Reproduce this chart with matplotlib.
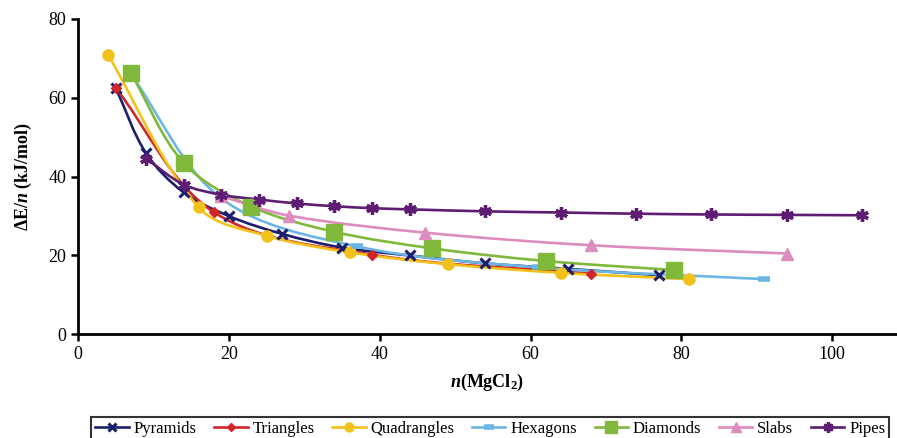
import matplotlib
matplotlib.use("Agg")
import matplotlib.pyplot as plt
import numpy as np
from matplotlib.path import Path
from matplotlib.patches import PathPatch

# n(MgCl2) and dE/n (kJ/mol)
pyr_x = [5, 9, 14, 20, 27, 35, 44, 54, 65, 77]
pyr_y = [62.5, 46, 36, 30, 25.5, 22, 20, 18, 16.6, 15]

tri_x = [5, 18, 39, 68]
tri_y = [62.5, 31, 20.2, 15.4]

quad_x = [4, 16, 25, 36, 49, 64, 81]
quad_y = [70.8, 32.2, 25, 20.8, 17.8, 15.6, 14]

hex_x = [7, 19, 37, 61, 91]
hex_y = [66, 34.5, 22.3, 17, 14]

dia_x = [7, 14, 23, 34, 47, 62, 79]
dia_y = [66.3, 43.5, 32.4, 26, 21.8, 18.6, 16.3]

slab_x = [19, 28, 46, 68, 94]
slab_y = [35, 30.1, 25.8, 22.6, 20.5]

pipe_x = [9, 14, 19, 24, 29, 34, 39, 44, 54, 64, 74, 84, 94, 104]
pipe_y = [44.6, 38, 35.4, 34.2, 33.2, 32.5, 32, 31.7, 31.2, 30.9, 30.6, 30.4, 30.3, 30.2]

plt.rcParams['font.family'] = ['Liberation Serif', 'DejaVu Serif']
plt.rcParams['mathtext.fontset'] = 'custom'
plt.rcParams['mathtext.rm'] = 'Liberation Serif:bold'
plt.rcParams['mathtext.it'] = 'Liberation Serif:bold:italic'
plt.rcParams['mathtext.bf'] = 'Liberation Serif:bold'


def smooth_line(ax, xs, ys, color, lw):
    # smoothed line: cubic Bezier through the points, tangents worked out in
    # display space so the curve does not overshoot on uneven spacing
    pts = ax.transData.transform(np.column_stack([xs, ys]))
    n = len(pts)
    tang = []
    for i in range(n):
        a = pts[max(i - 1, 0)]
        b = pts[min(i + 1, n - 1)]
        d = b - a
        tang.append(d / np.hypot(*d))
    verts = [pts[0]]
    codes = [Path.MOVETO]
    for i in range(n - 1):
        seg = np.hypot(*(pts[i + 1] - pts[i])) * 0.33
        verts += [pts[i] + tang[i] * seg, pts[i + 1] - tang[i + 1] * seg, pts[i + 1]]
        codes += [Path.CURVE4] * 3
    inv = ax.transData.inverted()
    ax.add_patch(PathPatch(Path(inv.transform(np.array(verts)), codes),
                           facecolor="none", edgecolor=color, lw=lw, capstyle="round"))


fig = plt.figure(figsize=(8.97, 4.38), dpi=100)
ax = fig.add_axes([0.087, 0.2367, 0.913, 0.72])
ax.set_xlim(0, 108.6)
ax.set_ylim(0, 80)

lw = 1.9
series = [
    (pyr_x, pyr_y, "#1c1f6b", dict(marker="x", ms=7, mew=2.2), "Pyramids"),
    (tri_x, tri_y, "#d0262a", dict(marker="D", ms=5), "Triangles"),
    (quad_x, quad_y, "#f2c21b", dict(marker="o", ms=8), "Quadrangles"),
    (hex_x, hex_y, "#6cb6e6", dict(marker="_", ms=9, mew=4), "Hexagons"),
    (dia_x, dia_y, "#7fb83b", dict(marker="s", ms=11), "Diamonds"),
    (slab_x, slab_y, "#de8bbd", dict(marker="^", ms=9), "Slabs"),
    (pipe_x, pipe_y, "#5e1c72", dict(marker=(6, 2, 0), ms=9, mew=2.4), "Pipes"),
]
handles = []
for xs, ys, c, mk, name in series:
    smooth_line(ax, xs, ys, c, lw)
    ax.plot(xs, ys, color=c, ls="none", **mk)
    h, = ax.plot([], [], color=c, lw=lw, label=name, **mk)
    handles.append(h)

ax.set_xticks([0, 20, 40, 60, 80, 100])
ax.set_yticks([0, 20, 40, 60, 80])
ax.tick_params(labelsize=13, direction="out", length=5, width=1.8, color="black")
for s in ["top", "right"]:
    ax.spines[s].set_visible(False)
for s in ["left", "bottom"]:
    ax.spines[s].set_linewidth(2)

ax.set_xlabel("$n$(MgCl$_2$)", fontsize=13, fontweight="bold", labelpad=6)
ax.set_ylabel("ΔE/$n$ (kJ/mol)", fontsize=13, fontweight="bold", labelpad=10)

leg = fig.legend(handles=handles, loc="upper left", bbox_to_anchor=(0.0925, 0.067),
                 ncol=7, fontsize=12, frameon=True, fancybox=False, edgecolor="black",
                 handlelength=2.0, handletextpad=0.3, columnspacing=1.05,
                 borderpad=0.25, markerscale=0.8)
leg.get_frame().set_linewidth(1.5)

fig.savefig("out.png", dpi=100)
